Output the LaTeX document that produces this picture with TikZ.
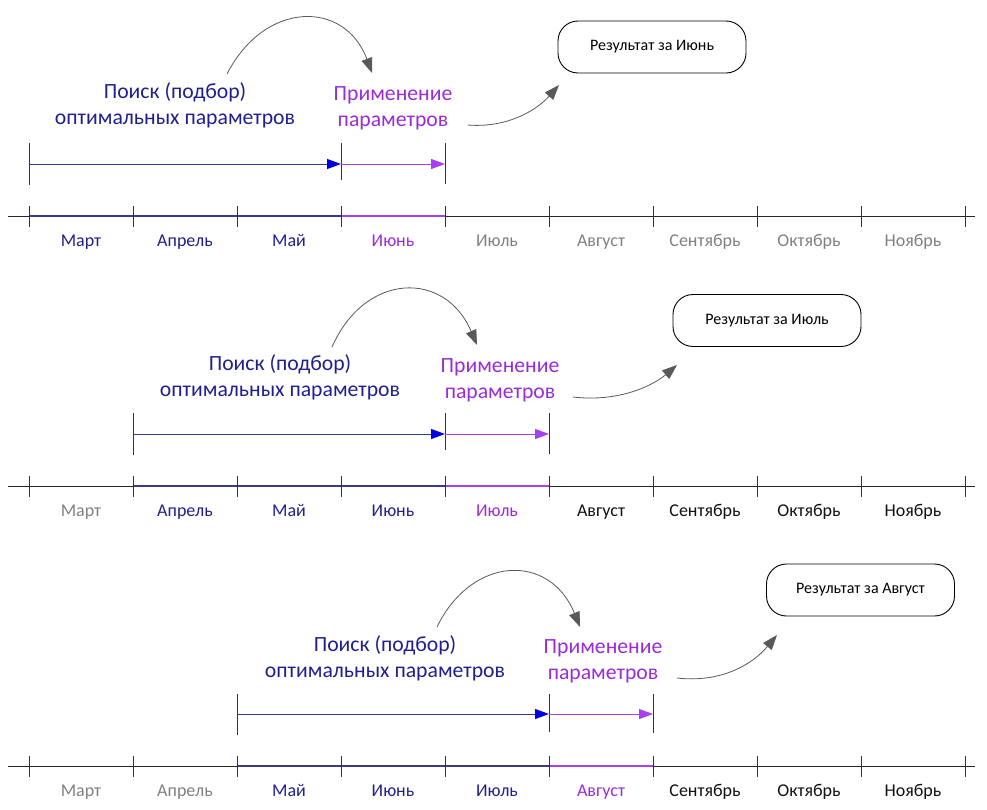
\documentclass[tikz,border=0pt]{standalone}
\usepackage{fontspec}
\setmainfont{Carlito}
\usetikzlibrary{arrows.meta}
\definecolor{navy}{HTML}{1F1F8F}
\definecolor{linblue}{HTML}{3A3A8A}
\definecolor{tipblue}{HTML}{0000E0}
\definecolor{purp}{HTML}{9A2BD8}
\definecolor{linpurp}{HTML}{A640F0}
\definecolor{grayt}{HTML}{808080}
\definecolor{blk}{HTML}{111111}
\definecolor{curvegray}{HTML}{595959}
\begin{document}
\begin{tikzpicture}[x=1pt,y=-1pt,
 axis/.style={line width=0.8pt,black!85},
 tickln/.style={line width=0.8pt,black!80},
 mon/.style={font=\fontsize{18}{20}\selectfont, anchor=base, inner sep=0pt},
 big/.style={font=\fontsize{21.7}{26}\selectfont, align=center, anchor=base, inner sep=0pt},
 res/.style={draw, rounded corners=20pt, minimum width=188pt, minimum height=52pt, line width=0.9pt, font=\fontsize{16}{18}\selectfont},
 bluearr/.style={linblue, line width=1pt, -{Triangle[length=14pt,width=10pt,color=tipblue]}},
 purparr/.style={linpurp, line width=1pt, -{Triangle[length=14pt,width=10pt]}},
 blueov/.style={linblue, line width=1.6pt},
 purpov/.style={linpurp, line width=1.6pt},
 curv/.style={curvegray, line width=0.8pt, -{Triangle[length=15pt,width=11pt]}},
]
\useasboundingbox (0,0) rectangle (987,809);

% ================= Row 1 =================
\draw[axis] (8,216) -- (975,216);
\draw[blueov] (29,216) -- (341,216);
\draw[purpov] (341,216) -- (445,216);
\foreach \i in {0,...,9} \draw[tickln] (29+104*\i,206) -- (29+104*\i,227);
\foreach \m/\c [count=\i from 0] in {Март/navy,Апрель/navy,Май/navy,Июнь/purp,Июль/grayt,Август/grayt,Сентябрь/grayt,Октябрь/grayt,Ноябрь/grayt}
  \node[mon,text=\c] (ra\i) at (81+104*\i,246) {\m};
\draw[tickln] (29,143) -- (29,185);
\draw[tickln] (341,143) -- (341,180);
\draw[tickln] (445,143) -- (445,184);
\coordinate (a1s) at (29,164);
\coordinate (a1m) at (341,164);
\coordinate (a1e) at (445,164);
\draw[bluearr] (a1s) -- (a1m);
\draw[purparr] (a1m) -- (a1e);
\node[big,text=navy] (p1) at (175,124) {Поиск (подбор)\\оптимальных параметров};
\node[big,text=purp] (q1) at (393,126) {Применение\\параметров};
\node[res] (b1) at (652,47) {Результат за Июнь};
\coordinate (c1s) at (227,74);
\coordinate (c1e) at (372,73);
\draw[curv] (c1s) .. controls (265,0) and (345,0) .. (c1e);
\coordinate (d1s) at (468,125);
\coordinate (d1e) at (559,85);
\draw[curv] (d1s) .. controls (505,128) and (535,112) .. (d1e);

% ================= Row 2 =================
\draw[axis] (8,486) -- (975,486);
\draw[blueov] (133,486) -- (445,486);
\draw[purpov] (445,486) -- (549,486);
\foreach \i in {0,...,9} \draw[tickln] (29+104*\i,476) -- (29+104*\i,497);
\foreach \m/\c [count=\i from 0] in {Март/grayt,Апрель/navy,Май/navy,Июнь/navy,Июль/purp,Август/blk,Сентябрь/blk,Октябрь/blk,Ноябрь/blk}
  \node[mon,text=\c] (rb\i) at (81+104*\i,516) {\m};
\draw[tickln] (133,413) -- (133,455);
\draw[tickln] (445,413) -- (445,450);
\draw[tickln] (549,413) -- (549,454);
\coordinate (a2s) at (133,434);
\coordinate (a2m) at (445,434);
\coordinate (a2e) at (549,434);
\draw[bluearr] (a2s) -- (a2m);
\draw[purparr] (a2m) -- (a2e);
\node[big,text=navy] (p2) at (280,396) {Поиск (подбор)\\оптимальных параметров};
\node[big,text=purp] (q2) at (500,398) {Применение\\параметров};
\node[res] (b2) at (767,320.5) {Результат за Июль};
\coordinate (c2s) at (332,347);
\coordinate (c2e) at (477,345);
\draw[curv] (c2s) .. controls (365,272) and (445,270) .. (c2e);
\coordinate (d2s) at (573,397);
\coordinate (d2e) at (677,365);
\draw[curv] (d2s) .. controls (615,402) and (650,388) .. (d2e);

% ================= Row 3 =================
\draw[axis] (8,766) -- (975,766);
\draw[blueov] (237,766) -- (549,766);
\draw[purpov] (549,766) -- (653,766);
\foreach \i in {0,...,9} \draw[tickln] (29+104*\i,756) -- (29+104*\i,777);
\foreach \m/\c [count=\i from 0] in {Март/grayt,Апрель/grayt,Май/navy,Июнь/navy,Июль/navy,Август/purp,Сентябрь/blk,Октябрь/blk,Ноябрь/blk}
  \node[mon,text=\c] (rc\i) at (81+104*\i,796) {\m};
\draw[tickln] (237,694) -- (237,735);
\draw[tickln] (549,694) -- (549,732);
\draw[tickln] (653,694) -- (653,733);
\coordinate (a3s) at (237,714);
\coordinate (a3m) at (549,714);
\coordinate (a3e) at (653,714);
\draw[bluearr] (a3s) -- (a3m);
\draw[purparr] (a3m) -- (a3e);
\node[big,text=navy] (p3) at (385,677) {Поиск (подбор)\\оптимальных параметров};
\node[big,text=purp] (q3) at (603,679) {Применение\\параметров};
\node[res] (b3) at (860.5,590) {Результат за Август};
\coordinate (c3s) at (437,627);
\coordinate (c3e) at (580,627);
\draw[curv] (c3s) .. controls (472,555) and (550,553) .. (c3e);
\coordinate (d3s) at (677,678);
\coordinate (d3e) at (777,635);
\draw[curv] (d3s) .. controls (720,683) and (752,665) .. (d3e);
\end{tikzpicture}
\end{document}
